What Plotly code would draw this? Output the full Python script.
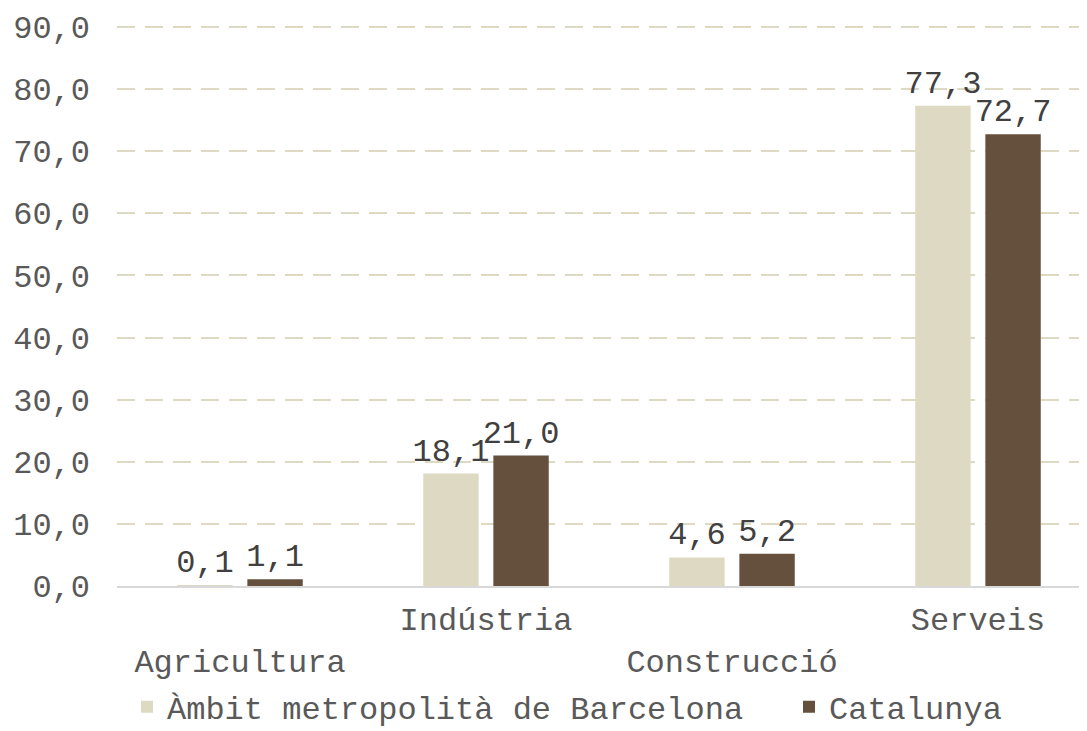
import plotly.graph_objects as go

categories = ["Agricultura", "Indústria", "Construcció", "Serveis"]
tick_labels = ["<br>Agricultura", "Indústria", "<br>Construcció", "Serveis"]
ambit_values = [0.1, 18.1, 4.6, 77.3]
catalunya_values = [1.1, 21.0, 5.2, 72.7]
series_names = ["Àmbit metropolità de Barcelona", "Catalunya"]
y_ticks = [0, 10, 20, 30, 40, 50, 60, 70, 80, 90]

FONT = "Courier New, Liberation Mono, monospace"
FS = 32
W, H = 1079, 723  # page body has an 8px default margin

fig = go.Figure()
fig.add_trace(go.Bar(
    x=list(range(len(categories))), y=ambit_values, name=series_names[0],
    marker=dict(color="#DDD9C3", line=dict(width=0)),
    texttemplate="%{y:.1f}", textposition="outside", cliponaxis=False,
    textfont=dict(family=FONT, size=FS, color="#404040"),
    legend="legend",
))
fig.add_trace(go.Bar(
    x=list(range(len(categories))), y=catalunya_values, name=series_names[1],
    marker=dict(color="#654F3D", line=dict(width=0)),
    texttemplate="%{y:.1f}", textposition="outside", cliponaxis=False,
    textfont=dict(family=FONT, size=FS, color="#404040"),
    legend="legend2",
))

legend_common = dict(
    orientation="h", xanchor="left",
    yref="container", y=1 - 699 / H, yanchor="middle",
    font=dict(family=FONT, size=FS, color="#595959"),
    itemwidth=30, bgcolor="rgba(0,0,0,0)",
)

fig.update_layout(
    width=W, height=H,
    margin=dict(l=109, r=0, t=17, b=145, autoexpand=False),
    paper_bgcolor="white", plot_bgcolor="white",
    separators=",.",
    barmode="group", bargap=0.43, bargroupgap=0.21,
    font=dict(family=FONT, size=FS, color="#595959"),
    showlegend=True,
    legend=dict(xref="container", x=119 / W, **legend_common),
    legend2=dict(xref="container", x=781 / W, **legend_common),
    uniformtext=dict(minsize=FS, mode="show"),
)
fig.update_xaxes(
    range=[-0.5, -0.5 + 970 / 246],
    tickmode="array", tickvals=list(range(len(categories))), ticktext=tick_labels,
    showgrid=False, showline=True, linecolor="#D9D9D9", linewidth=1.5,
    ticks="", ticklabelstandoff=4, automargin=False,
    tickfont=dict(family=FONT, size=FS, color="#595959"),
    fixedrange=True,
)
fig.update_yaxes(
    range=[0, 90.3], tickmode="array", tickvals=y_ticks, tickformat=".1f",
    showgrid=True, gridcolor="#DDD9C3", griddash="18px,10px", gridwidth=1.5,
    zeroline=False, showline=False, ticks="", automargin=False,
    ticklabelstandoff=26,
    tickfont=dict(family=FONT, size=FS, color="#595959"),
    fixedrange=True,
)

fig.write_html("out.html")
